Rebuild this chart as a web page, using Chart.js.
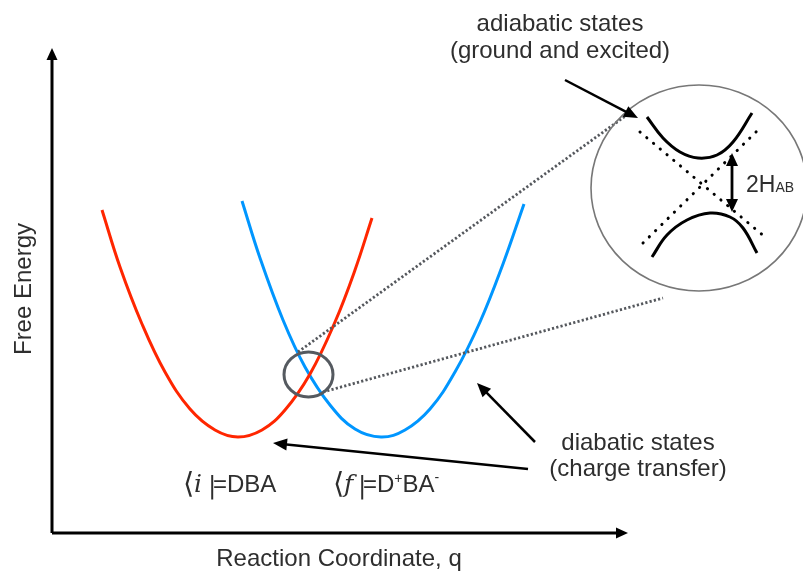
<!DOCTYPE html>
<html>
<head>
<meta charset="utf-8">
<script src="https://cdn.jsdelivr.net/npm/chart.js@4/dist/chart.umd.min.js"></script>
<style>
  html, body { margin: 0; padding: 0; background: #ffffff; }
  #wrap { width: 803px; height: 572px; }
</style>
</head>
<body>
<div id="wrap"><canvas id="c" width="803" height="572"></canvas></div>
<script>
// Marcus picture: free energy G against reaction coordinate q,
// measured from the corner where the two axes meet.

// Diabatic free-energy surfaces
const redQ  = [50, 68, 90, 113, 138, 163, 186, 210, 233, 258, 283, 303, 320];
const redG  = [323, 266, 209, 161, 124, 103, 96, 103, 123, 159, 211, 263, 315];
const blueQ = [190, 208, 231, 253, 278, 303, 329, 353, 378, 403, 428, 451, 472];
const blueG = [332, 275, 213, 166, 128, 104, 96, 103, 124, 161, 211, 269, 329];

// Magnified crossing: adiabatic ground and excited surfaces
const upperQ = [595, 611, 628, 646, 665, 681, 700];
const upperG = [416, 395, 381, 375, 378, 391, 420];
const lowerQ = [600, 615, 635, 658, 678, 691, 705];
const lowerG = [276, 298, 313, 320, 316, 305, 280];

// Diabatic crossing lines inside the magnifier
const crossAQ = [588, 713];
const crossAG = [401, 296];
const crossBQ = [591, 708];
const crossBG = [290, 405];

// Guide lines from the crossing region to the magnifier
const linkUpperQ = [246, 579];
const linkUpperG = [181, 421];
const linkLowerQ = [271, 611];
const linkLowerG = [141, 235];

// Rings: [centre q, centre G, radius q, radius G]
const crossingRing  = [256.5, 158.5, 24.5, 22.5];
const magnifierRing = [647, 345, 108, 103];

// Arrows: [q0, G0, q1, G1]
const axisY         = [0, 0, 0, 485];
const axisX         = [0, 0, 576, 0];
const adiabaticPtr  = [513, 453, 586, 415];
const diabaticPtrA  = [483, 91, 425, 150];
const diabaticPtrB  = [476, 64, 221, 90];
const couplingGap   = [680, 380, 680, 321];

// Text
const axisTitleX = 'Reaction Coordinate, q';
const axisTitleY = 'Free Energy';
const adiabaticLines = ['adiabatic states', '(ground and excited)'];
const diabaticLines  = ['diabatic states', '(charge transfer)'];

const pts = (qs, gs) => qs.map((q, i) => ({ x: q, y: gs[i] }));

const SANS = '"Liberation Sans", Arial, Helvetica, sans-serif';
const SERIF = '"DejaVu Serif", "Liberation Serif", serif';
const INK = '#2e2e2e';

function line(ctx, a, b, width, color) {
  ctx.save();
  ctx.strokeStyle = color;
  ctx.lineWidth = width;
  ctx.beginPath();
  ctx.moveTo(a[0], a[1]);
  ctx.lineTo(b[0], b[1]);
  ctx.stroke();
  ctx.restore();
}

function head(ctx, from, tip, len, half, color) {
  const ang = Math.atan2(tip[1] - from[1], tip[0] - from[0]);
  ctx.save();
  ctx.translate(tip[0], tip[1]);
  ctx.rotate(ang);
  ctx.fillStyle = color;
  ctx.beginPath();
  ctx.moveTo(0, 0);
  ctx.lineTo(-len, -half);
  ctx.lineTo(-len, half);
  ctx.closePath();
  ctx.fill();
  ctx.restore();
}

const diagram = {
  id: 'diagram',
  afterDatasetsDraw(chart) {
    const { ctx, scales: { x, y } } = chart;
    const P = (q, g) => [x.getPixelForValue(q), y.getPixelForValue(g)];

    // rings
    const ring = (r, width, color) => {
      const c = P(r[0], r[1]);
      const rx = Math.abs(x.getPixelForValue(r[0] + r[2]) - c[0]);
      const ry = Math.abs(y.getPixelForValue(r[1] + r[3]) - c[1]);
      ctx.save();
      ctx.strokeStyle = color;
      ctx.lineWidth = width;
      ctx.beginPath();
      ctx.ellipse(c[0], c[1], rx, ry, 0, 0, Math.PI * 2);
      ctx.stroke();
      ctx.restore();
    };
    ring(crossingRing, 3, '#555a60');
    ring(magnifierRing, 1.6, '#777777');

    // arrows
    const arrow = (a, width, len, half, both) => {
      const p0 = P(a[0], a[1]);
      const p1 = P(a[2], a[3]);
      const ang = Math.atan2(p1[1] - p0[1], p1[0] - p0[0]);
      const e1 = [p1[0] - Math.cos(ang) * len * 0.8, p1[1] - Math.sin(ang) * len * 0.8];
      const e0 = both ? [p0[0] + Math.cos(ang) * len * 0.8, p0[1] + Math.sin(ang) * len * 0.8] : p0;
      line(ctx, e0, e1, width, '#000');
      head(ctx, p0, p1, len, half, '#000');
      if (both) head(ctx, p1, p0, len, half, '#000');
    };
    arrow(axisY, 3, 12, 5.5, false);
    arrow(axisX, 3, 12, 5.5, false);
    arrow(adiabaticPtr, 2.5, 14, 6, false);
    arrow(diabaticPtrA, 2.5, 14, 6, false);
    arrow(diabaticPtrB, 2.5, 14, 6, false);
    arrow(couplingGap, 2.8, 13, 6, true);

    // plain text
    ctx.save();
    ctx.fillStyle = INK;
    ctx.font = '24px ' + SANS;
    ctx.textAlign = 'center';
    ctx.textBaseline = 'alphabetic';
    let p = P(508, 502); ctx.fillText(adiabaticLines[0], p[0], p[1]);
    p = P(508, 475);     ctx.fillText(adiabaticLines[1], p[0], p[1]);
    p = P(586, 83);      ctx.fillText(diabaticLines[0], p[0], p[1]);
    p = P(586, 57);      ctx.fillText(diabaticLines[1], p[0], p[1]);
    p = P(287, -33);     ctx.fillText(axisTitleX, p[0], p[1]);
    p = P(-21, 244);
    ctx.translate(p[0], p[1]);
    ctx.rotate(-Math.PI / 2);
    ctx.fillText(axisTitleY, 0, 0);
    ctx.restore();

    // state labels written as bra vectors
    const run = (segs) => {
      ctx.save();
      ctx.fillStyle = INK;
      ctx.textAlign = 'left';
      ctx.textBaseline = 'alphabetic';
      let cx = null;
      for (const s of segs) {
        ctx.font = s.font;
        let pp;
        if (s.at) { pp = P(s.at[0], s.at[1]); cx = pp[0]; }
        const base = P(0, s.g)[1];
        ctx.fillText(s.t, cx, base - (s.rise || 0));
        cx += ctx.measureText(s.t).width + (s.gap || 0);
      }
      ctx.restore();
    };
    const F = '24px ' + SANS;
    const FS = '14px ' + SANS;
    const FB = '29px "DejaVu Sans", ' + SERIF;
    const FI = 'italic 25px ' + SERIF;
    const FBAR = '25px ' + SERIF;
    run([
      { t: '\u27E8', font: FB, at: [131, 40], g: 40 },
      { t: 'i', font: FI, at: [142, 41], g: 41 },
      { t: '|', font: FBAR, at: [156, 40], g: 40 },
      { t: '=DBA', font: F, at: [161, 41], g: 41 }
    ]);
    run([
      { t: '\u27E8', font: FB, at: [281, 40], g: 40 },
      { t: 'f', font: FI, at: [292, 41], g: 41 },
      { t: '|', font: FBAR, at: [306, 40], g: 40 },
      { t: '=D', font: F, at: [311, 41], g: 41 },
      { t: '+', font: FS, g: 41, rise: 9 },
      { t: 'BA', font: F, g: 41 },
      { t: '-', font: FS, g: 41, rise: 10 }
    ]);

    // coupling label 2H_AB
    run([
      { t: '2H', font: '23px ' + SANS, at: [694, 341], g: 341 },
      { t: 'AB', font: '14px ' + SANS, g: 341 }
    ]);
  }
};

const curve = (data, color, width) => ({
  data, borderColor: color, borderWidth: width, pointRadius: 0,
  tension: 0.4, fill: false
});
const dotted = (data, color, width, dash, cap) => ({
  data, borderColor: color, borderWidth: width, pointRadius: 0,
  tension: 0, fill: false, borderDash: dash, borderCapStyle: cap
});

new Chart(document.getElementById('c'), {
  type: 'line',
  data: {
    datasets: [
      dotted(pts(linkUpperQ, linkUpperG), '#55585d', 2.8, [2.2, 2.2], 'butt'),
      dotted(pts(linkLowerQ, linkLowerG), '#55585d', 2.8, [2.2, 2.2], 'butt'),
      curve(pts(redQ, redG), '#ff2600', 3),
      curve(pts(blueQ, blueG), '#0096ff', 3),
      dotted(pts(crossAQ, crossAG), '#000000', 3, [0.2, 8.6], 'round'),
      dotted(pts(crossBQ, crossBG), '#000000', 3, [0.2, 8.6], 'round'),
      curve(pts(upperQ, upperG), '#000000', 3),
      curve(pts(lowerQ, lowerG), '#000000', 3)
    ]
  },
  options: {
    responsive: false,
    devicePixelRatio: 1,
    animation: false,
    layout: { padding: 0 },
    plugins: { legend: { display: false }, tooltip: { enabled: false } },
    scales: {
      x: { type: 'linear', min: -52, max: 751, display: false },
      y: { type: 'linear', min: -39, max: 533, display: false }
    }
  },
  plugins: [diagram]
});
</script>
</body>
</html>
